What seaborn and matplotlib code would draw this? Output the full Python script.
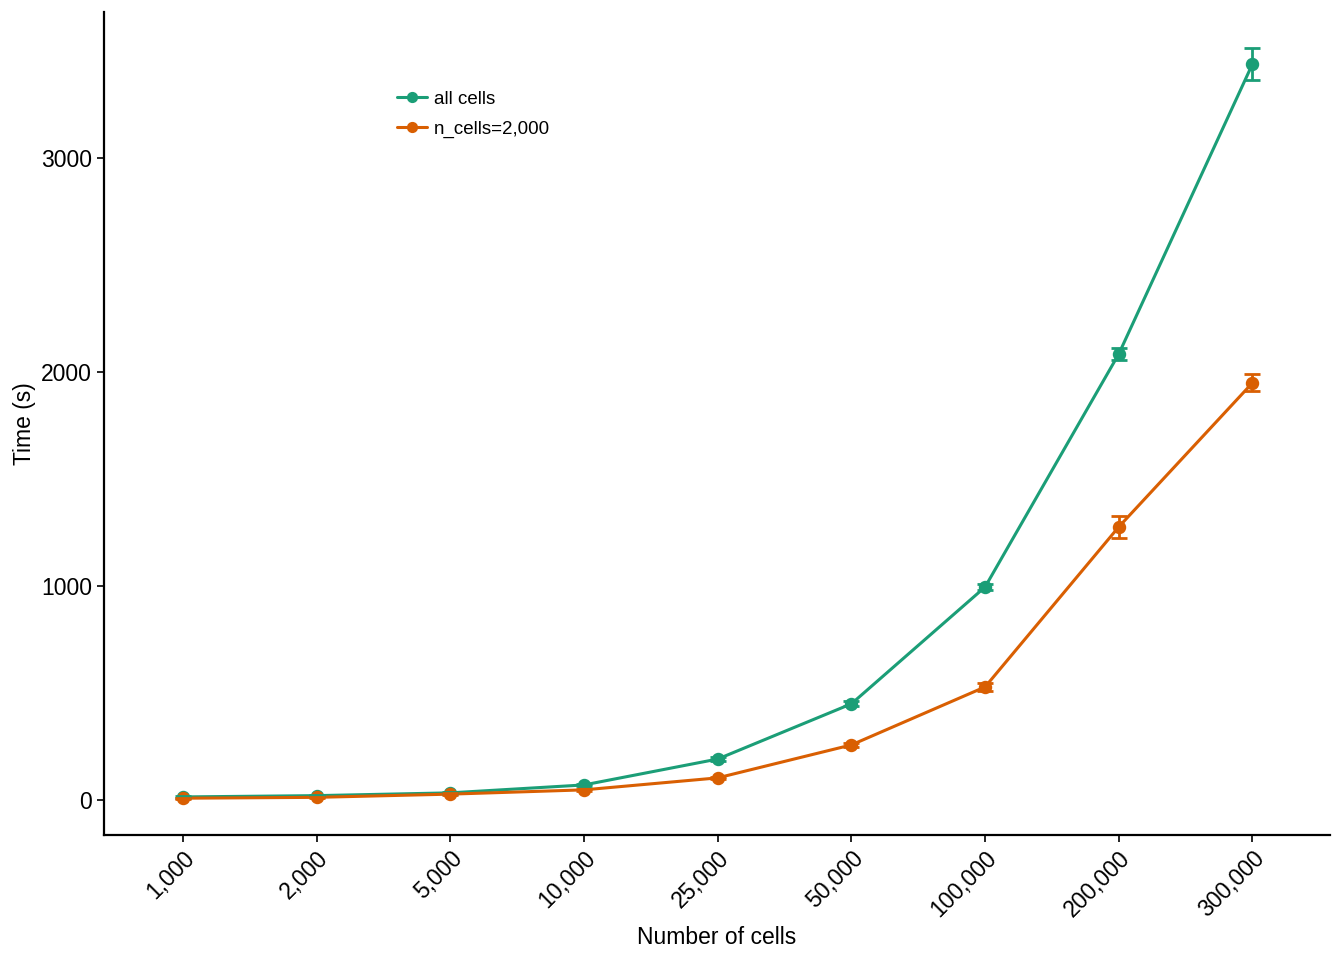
import numpy as np
import pandas as pd
import seaborn as sns
import matplotlib.pyplot as plt

# values
cell_counts = ["1,000", "2,000", "5,000", "10,000", "25,000", "50,000", "100,000", "200,000", "300,000"]
all_cells_mean = [14, 20, 33, 70, 191, 449, 995, 2084, 3439]
all_cells_sd = [3, 3, 4, 5, 8, 12, 15, 28, 75]
subset_mean = [8, 12, 27, 47, 103, 257, 528, 1276, 1949]
subset_sd = [2, 2, 3, 4, 6, 10, 20, 50, 40]

groups = ["all cells", "n_cells=2,000"]
colors = ["#1B9E77", "#D95F02"]

df = pd.DataFrame({
    "cells": cell_counts * 2,
    "time": all_cells_mean + subset_mean,
    "group": [groups[0]] * len(cell_counts) + [groups[1]] * len(cell_counts),
})

sns.set_style("ticks")
plt.rcParams["font.family"] = ["Liberation Sans", "DejaVu Sans"]
plt.rcParams["text.color"] = "black"
plt.rcParams["axes.labelcolor"] = "black"
plt.rcParams["xtick.color"] = "black"
plt.rcParams["ytick.color"] = "black"

fig = plt.figure(figsize=(13.44, 9.6), dpi=100)
ax = fig.add_axes([0.0774, 0.1302, 0.9122, 0.8573])

sns.pointplot(data=df, x="cells", y="time", hue="group", order=cell_counts,
              hue_order=groups, palette=colors, errorbar=None, markers="o",
              linestyles="-", markersize=8, linewidth=2.2, ax=ax)

pos = np.arange(len(cell_counts))
for mean, sd, c in zip([all_cells_mean, subset_mean], [all_cells_sd, subset_sd], colors):
    ax.errorbar(pos, mean, yerr=sd, fmt="none", ecolor=c, elinewidth=2,
                capsize=6, capthick=2, zorder=5)

ax.set_xlim(-0.59, 8.58)
ax.set_ylim(-164, 3682)
ax.set_yticks([0, 1000, 2000, 3000])
ax.set_xlabel("Number of cells", fontsize=16.5, labelpad=3)
ax.set_ylabel("Time (s)", fontsize=16.5, labelpad=4)
ax.tick_params(axis="both", labelsize=16.5, width=1.2, length=5, color="black")
plt.setp(ax.get_xticklabels(), rotation=45, ha="right", rotation_mode="anchor")

for side in ["top", "right"]:
    ax.spines[side].set_visible(False)
for side in ["left", "bottom"]:
    ax.spines[side].set_linewidth(1.6)
    ax.spines[side].set_color("black")

leg = ax.legend(title=None, frameon=False, fontsize=13.5, loc="upper left",
                bbox_to_anchor=(0.225, 0.925), handlelength=1.6,
                handletextpad=0.4, labelspacing=0.7, markerscale=0.8)

fig.savefig("out.png", dpi=100)
